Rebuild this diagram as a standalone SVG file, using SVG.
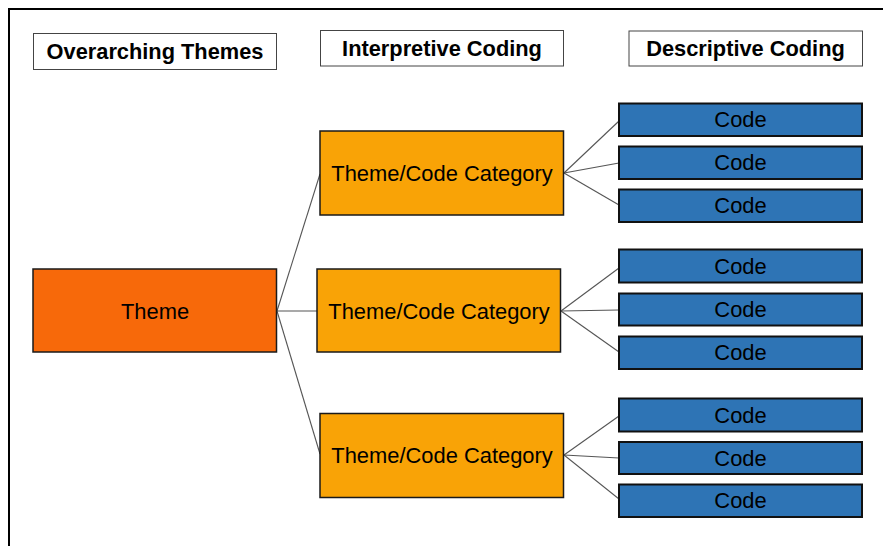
<svg xmlns="http://www.w3.org/2000/svg" width="883" height="546" viewBox="0 0 883 546">
  <style>
    .frame { fill: none; stroke: #000; stroke-width: 2; }
    .hdr rect { fill: #fff; stroke: #444; stroke-width: 1; }
    .hdr text { font-family: "Liberation Sans", Arial, sans-serif; font-size: 21.8px; font-weight: bold; fill: #000; text-anchor: middle; }
    .theme rect { fill: #F7690A; stroke: #1a1a1a; stroke-width: 1.5; }
    .cat rect { fill: #F9A306; stroke: #1a1a1a; stroke-width: 1.5; }
    .code rect { fill: #2E74B5; stroke: #111; stroke-width: 2; }
    .node text { font-family: "Liberation Sans", Arial, sans-serif; font-size: 21.9px; fill: #000; text-anchor: middle; }
    .links line { stroke: #555; stroke-width: 1.1; }
  </style>

  <!-- outer frame -->
  <rect class="frame" x="9" y="9" width="900" height="600"/>

  <!-- column headings -->
  <g id="hdr-themes" class="hdr">
    <rect x="33.5" y="33.5" width="243" height="36"/>
    <text x="155" y="59">Overarching Themes</text>
  </g>
  <g id="hdr-interpretive" class="hdr">
    <rect x="320.5" y="30.5" width="243" height="35.5"/>
    <text x="442" y="55.5">Interpretive Coding</text>
  </g>
  <g id="hdr-descriptive" class="hdr">
    <rect x="629" y="31" width="233.5" height="35"/>
    <text x="745.5" y="56">Descriptive Coding</text>
  </g>

  <!-- connectors -->
  <g id="connectors" class="links">
    <line x1="277" y1="311" x2="320" y2="174"/>
    <line x1="277" y1="311" x2="317" y2="311"/>
    <line x1="277" y1="311" x2="320" y2="454"/>

    <line x1="564" y1="173" x2="619" y2="121"/>
    <line x1="564" y1="173" x2="619" y2="163"/>
    <line x1="564" y1="173" x2="619" y2="205"/>

    <line x1="561" y1="311" x2="619" y2="268"/>
    <line x1="561" y1="311" x2="619" y2="310"/>
    <line x1="561" y1="311" x2="619" y2="352"/>

    <line x1="564" y1="455" x2="619" y2="416"/>
    <line x1="564" y1="455" x2="619" y2="458"/>
    <line x1="564" y1="455" x2="619" y2="499"/>
  </g>

  <!-- theme -->
  <g id="theme" class="node theme">
    <rect x="33" y="269" width="243.5" height="83"/>
    <text x="155" y="318.5">Theme</text>
  </g>

  <!-- interpretive categories -->
  <g id="category-1" class="node cat">
    <rect x="320" y="131" width="243.5" height="84"/>
    <text x="442" y="181">Theme/Code Category</text>
  </g>
  <g id="category-2" class="node cat">
    <rect x="317" y="269" width="243.5" height="83"/>
    <text x="439" y="318.5">Theme/Code Category</text>
  </g>
  <g id="category-3" class="node cat">
    <rect x="320" y="413.5" width="243.5" height="84"/>
    <text x="442" y="463">Theme/Code Category</text>
  </g>

  <!-- descriptive codes -->
  <g id="code-1" class="node code">
    <rect x="619" y="103.5" width="243" height="32.5"/>
    <text x="740.5" y="127">Code</text>
  </g>
  <g id="code-2" class="node code">
    <rect x="619" y="146.5" width="243" height="32.5"/>
    <text x="740.5" y="170">Code</text>
  </g>
  <g id="code-3" class="node code">
    <rect x="619" y="189.5" width="243" height="32.5"/>
    <text x="740.5" y="213">Code</text>
  </g>
  <g id="code-4" class="node code">
    <rect x="619" y="249.5" width="243" height="33"/>
    <text x="740.5" y="273.5">Code</text>
  </g>
  <g id="code-5" class="node code">
    <rect x="619" y="293.5" width="243" height="32"/>
    <text x="740.5" y="317">Code</text>
  </g>
  <g id="code-6" class="node code">
    <rect x="619" y="336.5" width="243" height="32.5"/>
    <text x="740.5" y="360">Code</text>
  </g>
  <g id="code-7" class="node code">
    <rect x="619" y="398.5" width="243" height="33"/>
    <text x="740.5" y="422.5">Code</text>
  </g>
  <g id="code-8" class="node code">
    <rect x="619" y="442" width="243" height="32"/>
    <text x="740.5" y="465.5">Code</text>
  </g>
  <g id="code-9" class="node code">
    <rect x="619" y="484.5" width="243" height="32.5"/>
    <text x="740.5" y="508">Code</text>
  </g>
</svg>
